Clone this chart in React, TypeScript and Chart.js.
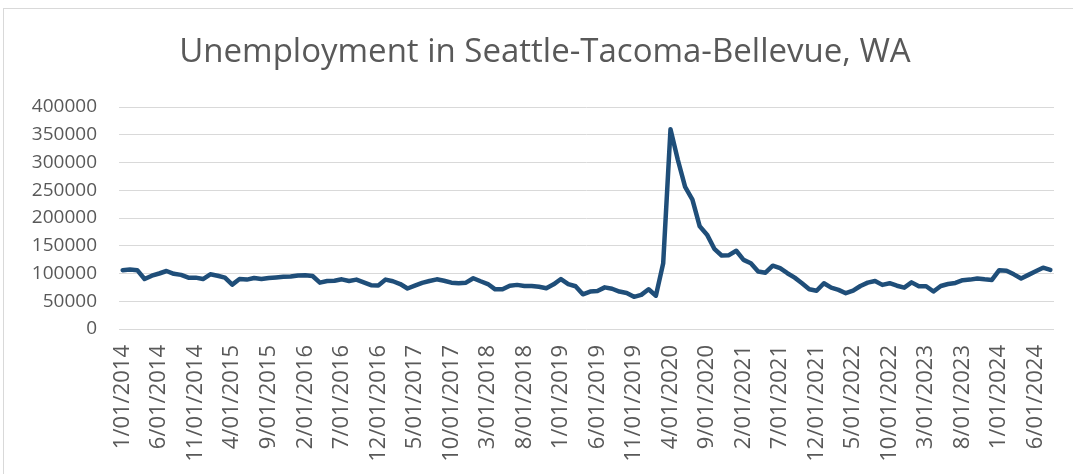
import React, { useEffect, useRef } from "react";
import { Chart, registerables } from "chart.js";

Chart.register(...registerables);

const TITLE = "Unemployment in Seattle-Tacoma-Bellevue, WA";

const months: string[] = [
  "1/01/2014", "2/01/2014", "3/01/2014", "4/01/2014", "5/01/2014", "6/01/2014", "7/01/2014", "8/01/2014", "9/01/2014", "10/01/2014", "11/01/2014", "12/01/2014",
  "1/01/2015", "2/01/2015", "3/01/2015", "4/01/2015", "5/01/2015", "6/01/2015", "7/01/2015", "8/01/2015", "9/01/2015", "10/01/2015", "11/01/2015", "12/01/2015",
  "1/01/2016", "2/01/2016", "3/01/2016", "4/01/2016", "5/01/2016", "6/01/2016", "7/01/2016", "8/01/2016", "9/01/2016", "10/01/2016", "11/01/2016", "12/01/2016",
  "1/01/2017", "2/01/2017", "3/01/2017", "4/01/2017", "5/01/2017", "6/01/2017", "7/01/2017", "8/01/2017", "9/01/2017", "10/01/2017", "11/01/2017", "12/01/2017",
  "1/01/2018", "2/01/2018", "3/01/2018", "4/01/2018", "5/01/2018", "6/01/2018", "7/01/2018", "8/01/2018", "9/01/2018", "10/01/2018", "11/01/2018", "12/01/2018",
  "1/01/2019", "2/01/2019", "3/01/2019", "4/01/2019", "5/01/2019", "6/01/2019", "7/01/2019", "8/01/2019", "9/01/2019", "10/01/2019", "11/01/2019", "12/01/2019",
  "1/01/2020", "2/01/2020", "3/01/2020", "4/01/2020", "5/01/2020", "6/01/2020", "7/01/2020", "8/01/2020", "9/01/2020", "10/01/2020", "11/01/2020", "12/01/2020",
  "1/01/2021", "2/01/2021", "3/01/2021", "4/01/2021", "5/01/2021", "6/01/2021", "7/01/2021", "8/01/2021", "9/01/2021", "10/01/2021", "11/01/2021", "12/01/2021",
  "1/01/2022", "2/01/2022", "3/01/2022", "4/01/2022", "5/01/2022", "6/01/2022", "7/01/2022", "8/01/2022", "9/01/2022", "10/01/2022", "11/01/2022", "12/01/2022",
  "1/01/2023", "2/01/2023", "3/01/2023", "4/01/2023", "5/01/2023", "6/01/2023", "7/01/2023", "8/01/2023", "9/01/2023", "10/01/2023", "11/01/2023", "12/01/2023",
  "1/01/2024", "2/01/2024", "3/01/2024", "4/01/2024", "5/01/2024", "6/01/2024", "7/01/2024", "8/01/2024",
];

const unemployment2014: number[] = [106000, 107000, 106000, 90000, 96000, 100000, 104500, 99500, 97500, 92500, 92500, 90000];
const unemployment2015: number[] = [98500, 96000, 92500, 80000, 90000, 89000, 92000, 90000, 92000, 93000, 94000, 94500];
const unemployment2016: number[] = [96500, 97000, 95500, 83500, 86500, 87000, 89500, 86500, 89000, 84000, 79000, 78500];
const unemployment2017: number[] = [89000, 86000, 81000, 73000, 78000, 83000, 86500, 89500, 87000, 83500, 82500, 83500];
const unemployment2018: number[] = [91500, 86000, 81000, 71500, 71500, 78000, 79500, 77500, 77500, 76000, 73500, 80500];
const unemployment2019: number[] = [90000, 81000, 77000, 62500, 67500, 68500, 75000, 72500, 67500, 65000, 58000, 61500];
const unemployment2020: number[] = [71500, 60000, 118500, 360000, 305000, 256000, 233000, 185000, 170000, 144500, 132500, 133000];
const unemployment2021: number[] = [141000, 124500, 118500, 103500, 101500, 114000, 109500, 100500, 92500, 82500, 71500, 69000];
const unemployment2022: number[] = [82500, 74500, 70500, 64500, 69000, 77500, 83500, 86500, 79500, 82500, 78000, 74500];
const unemployment2023: number[] = [84000, 77000, 77000, 67500, 77500, 81000, 83000, 88000, 89000, 91000, 89500, 88500];
const unemployment2024: number[] = [106000, 105000, 98500, 91000, 97500, 104000, 110500, 106500];

const unemployment: number[] = [
  ...unemployment2014, ...unemployment2015, ...unemployment2016, ...unemployment2017,
  ...unemployment2018, ...unemployment2019, ...unemployment2020, ...unemployment2021,
  ...unemployment2022, ...unemployment2023, ...unemployment2024,
];

const Y_MIN = 0;
const Y_MAX = 400000;
const Y_STEP = 50000;
const LABEL_EVERY = 5;

const TEXT_COLOR = "#595959";
const GRID_COLOR = "#d9d9d9";
const LINE_COLOR = "#1F4E79";
const FONT = "'Open Sans', sans-serif";

// Draws the chart title centred over the whole chart frame (Excel style),
// rather than over Chart.js' layout box.
const frameTitle = {
  id: "frameTitle",
  afterDraw(chart: any, _args: any, opts: any) {
    const ctx = chart.ctx;
    ctx.save();
    ctx.font = `${opts.size}px ${FONT}`;
    ctx.fillStyle = opts.color;
    ctx.textAlign = "center";
    ctx.textBaseline = "middle";
    ctx.fillText(opts.text, opts.centerX, opts.centerY);
    ctx.restore();
  },
};

export default function App() {
  const canvasRef = useRef<HTMLCanvasElement | null>(null);

  useEffect(() => {
    const canvas = canvasRef.current;
    if (!canvas) return;
    const chart = new Chart(canvas, {
      type: "line",
      data: {
        labels: months,
        datasets: [
          {
            data: unemployment,
            borderColor: LINE_COLOR,
            backgroundColor: LINE_COLOR,
            borderWidth: 4.5,
            pointRadius: 0,
            tension: 0,
            fill: false,
            borderCapStyle: "round",
            borderJoinStyle: "round",
          },
        ],
      },
      plugins: [frameTitle],
      options: {
        responsive: false,
        animation: false,
        layout: { padding: { left: 0, right: 19, top: 107, bottom: 0 } },
        plugins: {
          legend: { display: false },
          tooltip: { enabled: false },
          title: { display: false },
          frameTitle: { text: TITLE, size: 33, color: TEXT_COLOR, centerX: 545, centerY: 53 },
        } as any,
        scales: {
          x: {
            type: "category",
            offset: true,
            grid: { display: false, drawTicks: false },
            border: { display: false },
            ticks: {
              autoSkip: false,
              minRotation: 90,
              maxRotation: 90,
              color: TEXT_COLOR,
              padding: 16,
              font: { family: FONT, size: 22 },
              callback: (_v: any, i: number) => (i % LABEL_EVERY === 0 ? months[i] : ""),
            },
            afterFit: (s: any) => {
              s.height = 145;
              s.paddingLeft = 0;
              s.paddingRight = 0;
            },
          },
          y: {
            min: Y_MIN,
            max: Y_MAX,
            grid: { color: GRID_COLOR, lineWidth: 1, drawTicks: false },
            border: { display: false },
            ticks: {
              stepSize: Y_STEP,
              color: TEXT_COLOR,
              padding: 22,
              font: { family: FONT, size: 19 },
              callback: (v: any) => String(v),
            },
            afterFit: (s: any) => {
              s.width = 119;
              s.paddingTop = 0;
              s.paddingBottom = 0;
            },
          },
        },
      },
    });
    return () => chart.destroy();
  }, []);

  return (
    <div style={{ position: "fixed", left: 0, top: 0, width: 1073, height: 474, background: "#fff", overflow: "hidden" }}>
      <div
        style={{
          position: "absolute",
          left: 3,
          top: 8,
          width: 1080,
          height: 480,
          border: `1px solid ${GRID_COLOR}`,
          boxSizing: "border-box",
        }}
      />
      <canvas ref={canvasRef} width={1073} height={474} style={{ position: "absolute", left: 0, top: 0, display: "block" }} />
    </div>
  );
}
